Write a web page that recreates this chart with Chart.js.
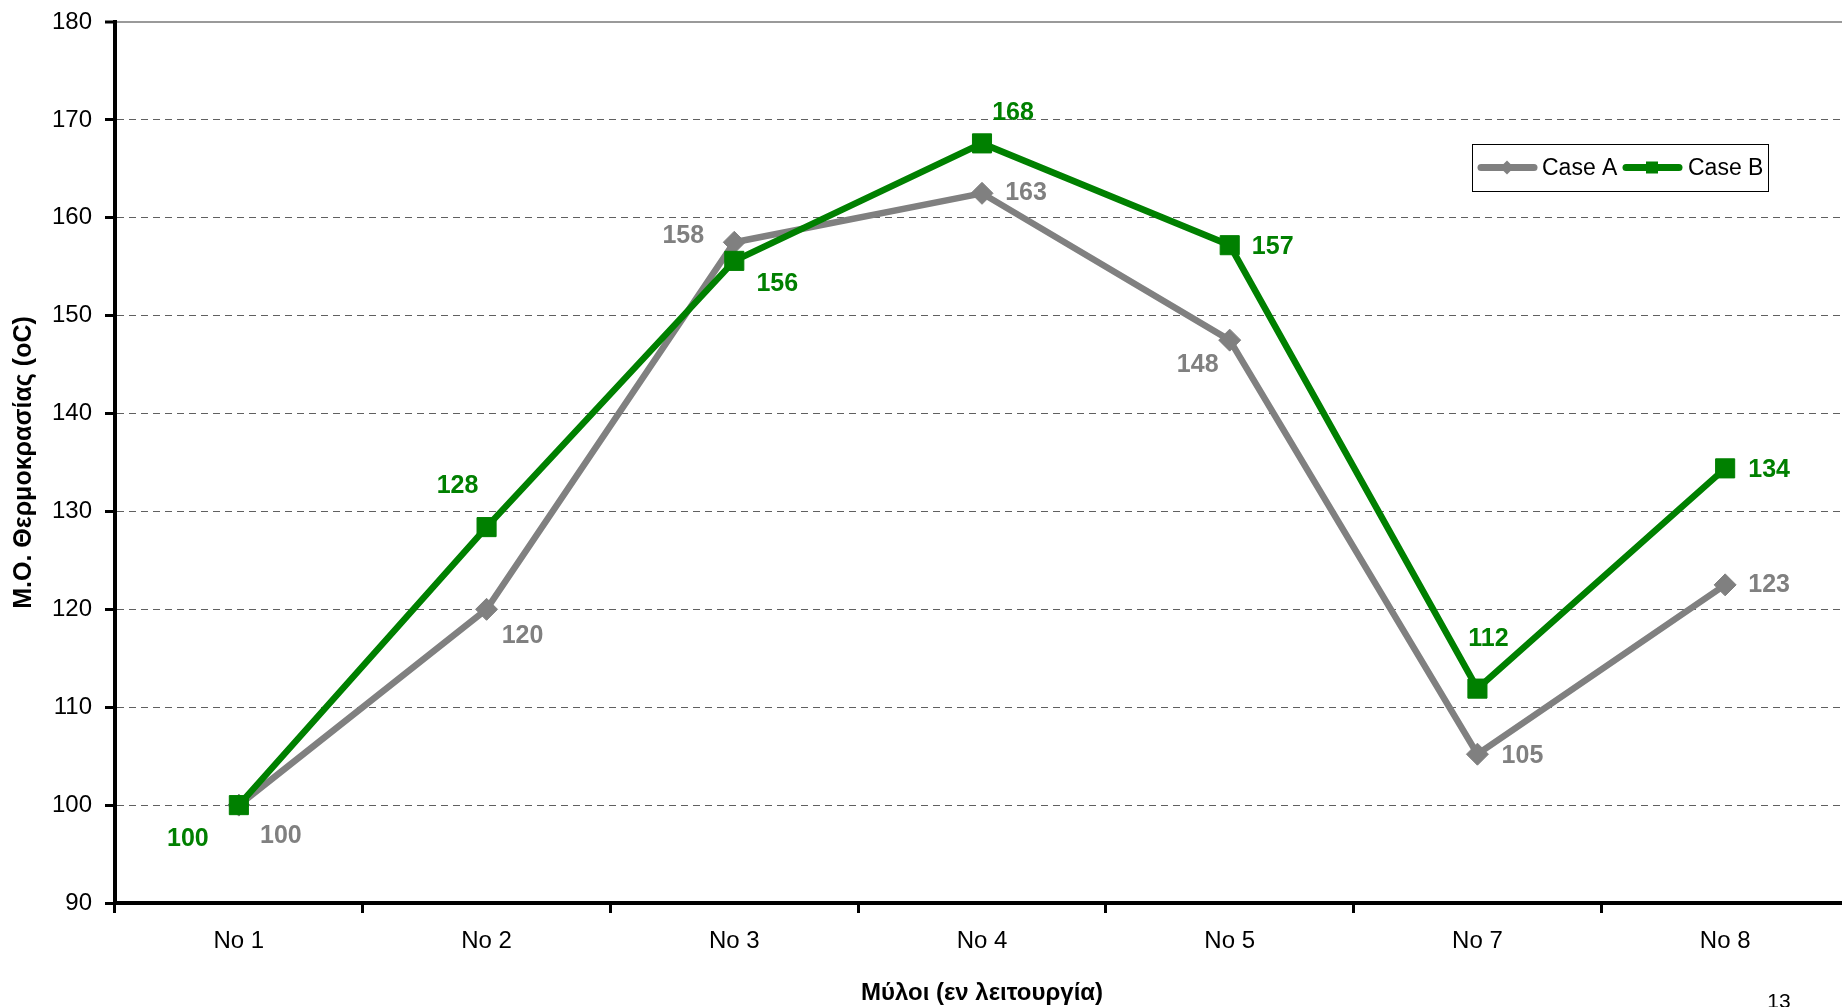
<!DOCTYPE html>
<html lang="el">
<head>
    <meta charset="UTF-8">
    <title>Μ.Ο. Θερμοκρασίας ανά μύλο</title>
    <style>
        html, body { margin: 0; padding: 0; overflow: hidden; background: #fff; }
        canvas { display: block; }
    </style>
</head>
<body>

    <canvas id="myChart" width="1860" height="1007"></canvas>

    <script src="https://cdn.jsdelivr.net/npm/chart.js@4.4.0/dist/chart.umd.min.js"></script>

    <script>
        // values
        var mills = ['No 1', 'No 2', 'No 3', 'No 4', 'No 5', 'No 7', 'No 8'];
        var caseA = [100, 120, 157.5, 162.5, 147.5, 105.2, 122.5];
        var caseB = [100, 128.4, 155.6, 167.6, 157.2, 111.9, 134.4];
        var seriesNames = ['Case A', 'Case B'];
        var yMin = 90, yMax = 180, yStep = 10;
        var pageNumber = '13';

        var FONT = '"Liberation Sans", Arial, sans-serif';
        var GREY = '#808080';
        var GREEN = '#008000';

        // where each value label sits relative to its marker
        var labelOffsets = [
            [[42, 29], [36, 25], [-51, -8], [44, -2], [-32, 23], [45, 0], [44, -2]],
            [[-51, 32], [-29, -43], [43, 21], [31, -32], [43, 0], [11, -52], [44, 0]]
        ];

        var valueLabels = {
            id: 'valueLabels',
            afterDatasetsDraw: function(chart) {
                var ctx = chart.ctx;
                ctx.save();
                ctx.font = 'bold 25px ' + FONT;
                ctx.textAlign = 'center';
                ctx.textBaseline = 'alphabetic';
                chart.data.datasets.forEach(function(ds, i) {
                    var meta = chart.getDatasetMeta(i);
                    ctx.fillStyle = ds.borderColor;
                    meta.data.forEach(function(pt, j) {
                        var off = labelOffsets[i][j];
                        ctx.fillText(Math.round(ds.data[j]), pt.x + off[0], pt.y + off[1] + 9);
                    });
                });
                ctx.restore();
            }
        };

        var boxLegend = {
            id: 'boxLegend',
            afterDraw: function(chart) {
                var ctx = chart.ctx;
                var x0 = 1472, y0 = 144, w = 296, h = 47;
                var cy = y0 + h / 2;
                ctx.save();
                ctx.fillStyle = '#fff';
                ctx.fillRect(x0, y0, w, h);
                ctx.strokeStyle = '#000';
                ctx.lineWidth = 1;
                ctx.strokeRect(x0 + 0.5, y0 + 0.5, w, h);

                var items = [
                    { x: 1478, text: 1542 },
                    { x: 1623, text: 1688 }
                ];
                chart.data.datasets.forEach(function(ds, i) {
                    var it = items[i];
                    var mid = it.x + 29;
                    ctx.strokeStyle = ds.borderColor;
                    ctx.fillStyle = ds.borderColor;
                    ctx.lineWidth = 7;
                    ctx.lineCap = 'round';
                    ctx.beginPath();
                    ctx.moveTo(it.x + 3, cy);
                    ctx.lineTo(it.x + 56, cy);
                    ctx.stroke();
                    ctx.beginPath();
                    if (ds.pointStyle === 'rectRot') {
                        ctx.moveTo(mid - 7, cy);
                        ctx.lineTo(mid, cy - 7);
                        ctx.lineTo(mid + 7, cy);
                        ctx.lineTo(mid, cy + 7);
                        ctx.closePath();
                    } else {
                        ctx.rect(mid - 6, cy - 6, 12, 12);
                    }
                    ctx.fill();

                    ctx.fillStyle = '#000';
                    ctx.font = '23px ' + FONT;
                    ctx.textAlign = 'left';
                    ctx.textBaseline = 'middle';
                    ctx.fillText(ds.label, it.text, cy + 1);
                });

                // slide page number
                ctx.fillStyle = '#000';
                ctx.font = '21px ' + FONT;
                ctx.textAlign = 'center';
                ctx.textBaseline = 'alphabetic';
                ctx.fillText(pageNumber, 1779, 1008);
                ctx.restore();
            }
        };

        var ctx = document.getElementById('myChart').getContext('2d');
        var myLineChart = new Chart(ctx, {
            type: 'line',
            data: {
                labels: mills,
                datasets: [{
                    label: seriesNames[0],
                    data: caseA,
                    borderColor: GREY,
                    backgroundColor: GREY,
                    borderWidth: 6.5,
                    pointStyle: 'rectRot',
                    pointRadius: 11,
                    pointBorderWidth: 1,
                    tension: 0,
                    order: 1
                }, {
                    label: seriesNames[1],
                    data: caseB,
                    borderColor: GREEN,
                    backgroundColor: GREEN,
                    borderWidth: 6.5,
                    pointStyle: 'rect',
                    pointRadius: 13.5,
                    pointBorderWidth: 1,
                    tension: 0,
                    order: 0
                }]
            },
            options: {
                responsive: false,
                animation: false,
                devicePixelRatio: 1,
                layout: { autoPadding: false, padding: { top: 22, right: 11, left: 0, bottom: 0 } },
                plugins: {
                    legend: { display: false },
                    tooltip: { enabled: false }
                },
                scales: {
                    x: {
                        type: 'category',
                        offset: true,
                        grid: {
                            offset: true,
                            drawOnChartArea: false,
                            drawTicks: true,
                            tickLength: 10,
                            tickWidth: 3,
                            tickColor: '#000'
                        },
                        border: { color: '#000', width: 4 },
                        ticks: {
                            color: '#000',
                            padding: 14,
                            font: { family: FONT, size: 24 }
                        },
                        title: {
                            display: true,
                            text: 'Μύλοι (εν λειτουργία)',
                            color: '#000',
                            font: { family: FONT, size: 24, weight: 'bold', lineHeight: 1.1 },
                            padding: { top: 0, bottom: 0 }
                        },
                        afterFit: function(scale) { scale.height = 104; }
                    },
                    y: {
                        min: yMin,
                        max: yMax,
                        ticks: {
                            stepSize: yStep,
                            color: '#000',
                            padding: 13,
                            font: { family: FONT, size: 24 }
                        },
                        grid: {
                            color: function(c) { return c.tick && c.tick.value === yMax ? '#9a9a9a' : '#606060'; },
                            lineWidth: function(c) { return c.tick && c.tick.value === yMax ? 2 : 1; },
                            drawTicks: true,
                            tickLength: 10,
                            tickWidth: 3,
                            tickColor: '#000',
                            tickBorderDash: []
                        },
                        border: {
                            color: '#000',
                            width: 4,
                            dash: function(c) { return c.tick && c.tick.value === yMax ? [] : [7, 5]; }
                        },
                        title: {
                            display: true,
                            text: 'Μ.Ο. Θερμοκρασίας (oC)',
                            color: '#000',
                            font: { family: FONT, size: 25, weight: 'bold' },
                            padding: { top: 9, bottom: 0 }
                        },
                        afterFit: function(scale) {
                            scale.width = 115;
                            scale.paddingTop = 0;
                            scale.paddingBottom = 0;
                        }
                    }
                }
            },
            plugins: [valueLabels, boxLegend]
        });
    </script>

</body>
</html>
